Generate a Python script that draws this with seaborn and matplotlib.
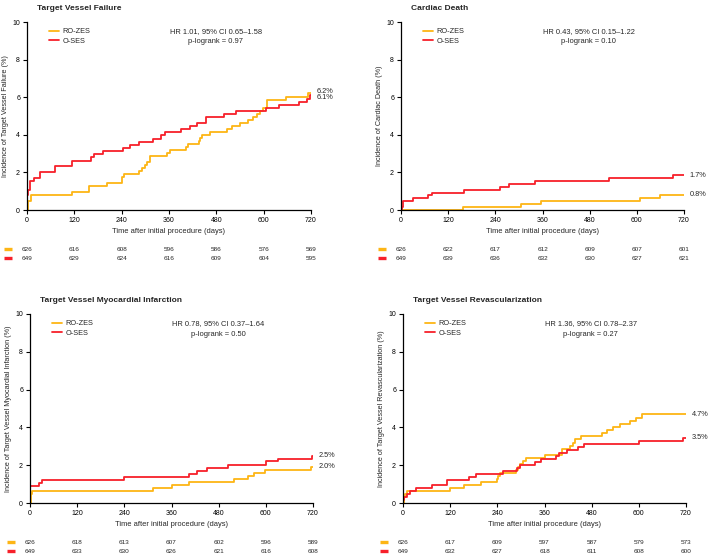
import numpy as np
import pandas as pd
import matplotlib
matplotlib.use("Agg")
import matplotlib.pyplot as plt
import matplotlib.transforms as mtransforms
from matplotlib.lines import Line2D
import seaborn as sns

# ---------------- data ----------------
groups = ["RO-ZES", "O-SES"]
titles = ["Target Vessel Failure", "Cardiac Death",
          "Target Vessel Myocardial Infarction", "Target Vessel Revascularization"]
ylabels = ["Incidence of Target Vessel Failure (%)", "Incidence of Cardiac Death (%)",
           "Incidence of Target Vessel Myocardial Infarction (%)",
           "Incidence of Target Vessel Revascularization (%)"]
hr_text = ["HR 1.01, 95% CI 0.65\u20131.58", "HR 0.43, 95% CI 0.15\u20131.22",
           "HR 0.78, 95% CI 0.37\u20131.64", "HR 1.36, 95% CI 0.78\u20132.37"]
p_text = ["p-logrank = 0.97", "p-logrank = 0.10", "p-logrank = 0.50", "p-logrank = 0.27"]
end_labels = [["6.2%", "6.1%"], ["0.8%", "1.7%"], ["2.0%", "2.5%"], ["4.7%", "3.5%"]]

tvf_ro_t = [0, 3, 10, 115, 158, 204, 241, 246, 285, 292, 300, 305, 312, 354, 362, 403, 407, 435,
            439, 444, 464, 506, 519, 540, 561, 574, 582, 591, 599, 608, 657, 713, 720]
tvf_ro_v = [0, 0.48, 0.8, 0.96, 1.28, 1.44, 1.76, 1.92, 2.08, 2.24, 2.4, 2.56, 2.88, 3.04, 3.2, 3.36,
            3.52, 3.68, 3.84, 4.0, 4.16, 4.32, 4.48, 4.64, 4.8, 4.96, 5.12, 5.28, 5.44, 5.84, 6.0, 6.2, 6.2]
tvf_os_t = [0, 1, 3, 8, 18, 33, 72, 114, 163, 170, 192, 244, 262, 283, 320, 339, 351, 390, 412,
            430, 455, 500, 530, 606, 640, 690, 710, 718, 720]
tvf_os_v = [0, 0.8, 1.04, 1.52, 1.68, 2.0, 2.32, 2.6, 2.8, 2.96, 3.12, 3.28, 3.44, 3.6, 3.76, 4.0,
            4.16, 4.32, 4.48, 4.64, 4.96, 5.12, 5.28, 5.44, 5.6, 5.76, 5.92, 6.1, 6.1]

cd_ro_t = [0, 158, 305, 355, 608, 658, 720]
cd_ro_v = [0, 0.16, 0.32, 0.48, 0.64, 0.8, 0.8]
cd_os_t = [0, 2, 6, 30, 68, 80, 160, 252, 275, 340, 530, 693, 720]
cd_os_v = [0, 0.16, 0.46, 0.62, 0.78, 0.93, 1.08, 1.24, 1.4, 1.55, 1.71, 1.86, 1.86]

mi_ro_t = [0, 2, 6, 312, 362, 405, 518, 555, 570, 598, 715, 720]
mi_ro_v = [0, 0.48, 0.64, 0.8, 0.96, 1.12, 1.28, 1.44, 1.6, 1.76, 1.92, 1.92]
mi_os_t = [0, 1, 22, 30, 240, 405, 425, 450, 505, 600, 632, 718, 720]
mi_os_v = [0, 0.9, 1.06, 1.22, 1.38, 1.55, 1.7, 1.87, 2.03, 2.2, 2.35, 2.5, 2.5]

tvr_ro_t = [0, 2, 6, 10, 120, 155, 198, 240, 242, 246, 288, 292, 297, 305, 312, 362, 405, 425, 432,
            438, 452, 506, 519, 534, 552, 578, 593, 608, 720]
tvr_ro_v = [0, 0.3, 0.48, 0.64, 0.8, 0.96, 1.12, 1.28, 1.44, 1.6, 1.76, 1.92, 2.08, 2.24, 2.4, 2.56,
            2.88, 3.04, 3.2, 3.36, 3.52, 3.68, 3.84, 4.0, 4.16, 4.32, 4.48, 4.7, 4.7]
tvr_os_t = [0, 1, 3, 10, 18, 33, 73, 112, 168, 185, 255, 290, 298, 335, 350, 390, 398, 418, 445,
            460, 600, 712, 720]
tvr_os_v = [0, 0.16, 0.32, 0.48, 0.64, 0.8, 0.96, 1.22, 1.38, 1.55, 1.7, 1.86, 2.02, 2.18, 2.34,
            2.5, 2.65, 2.81, 2.97, 3.13, 3.29, 3.45, 3.45]

risk_times = [0, 120, 240, 360, 480, 600, 720]
tvf_risk_ro = [626, 616, 608, 596, 586, 576, 569]
tvf_risk_os = [649, 629, 624, 616, 609, 604, 595]
cd_risk_ro = [626, 622, 617, 612, 609, 607, 601]
cd_risk_os = [649, 639, 636, 632, 630, 627, 621]
mi_risk_ro = [626, 618, 613, 607, 602, 596, 589]
mi_risk_os = [649, 633, 630, 626, 621, 616, 608]
tvr_risk_ro = [626, 617, 609, 597, 587, 579, 573]
tvr_risk_os = [649, 632, 627, 618, 611, 608, 600]

curves = [
    ((tvf_ro_t, tvf_ro_v), (tvf_os_t, tvf_os_v)),
    ((cd_ro_t, cd_ro_v), (cd_os_t, cd_os_v)),
    ((mi_ro_t, mi_ro_v), (mi_os_t, mi_os_v)),
    ((tvr_ro_t, tvr_ro_v), (tvr_os_t, tvr_os_v)),
]
risks = [(tvf_risk_ro, tvf_risk_os), (cd_risk_ro, cd_risk_os),
         (mi_risk_ro, mi_risk_os), (tvr_risk_ro, tvr_risk_os)]

# ---------------- style ----------------
sns.set_theme(style="ticks")
plt.rcParams["font.family"] = ["Liberation Sans", "DejaVu Sans"]
colors = {"RO-ZES": "#FDB515", "O-SES": "#F7202A"}
label_offsets = [(2, -2), (0, 0), (0, 0), (0, 0)]  # px vertical nudges (RO, OS)

W, H = 709, 554
fig = plt.figure(figsize=(W / 100, H / 100), dpi=100)
# axes boxes in pixels: left, top, right, bottom
boxes = [(27, 22, 311, 210), (401, 22, 684, 210), (30, 314, 313, 503), (403, 314, 686, 503)]

for i, (l, t, r, b) in enumerate(boxes):
    ax = fig.add_axes([l / W, 1 - b / H, (r - l) / W, (b - t) / H])
    frames = []
    for g, (tt, vv) in zip(groups, curves[i]):
        frames.append(pd.DataFrame({"time": tt, "inc": vv, "group": g}))
    df = pd.concat(frames, ignore_index=True)
    sns.lineplot(data=df, x="time", y="inc", hue="group", hue_order=groups,
                 palette=colors, drawstyle="steps-post", estimator=None,
                 linewidth=1.3, ax=ax, legend=False)
    ax.set_xlim(0, 720)
    ax.set_ylim(0, 10)
    ax.set_xticks(risk_times)
    ax.set_yticks([0, 2, 4, 6, 8, 10])
    sns.despine(ax=ax)
    for s in ["left", "bottom"]:
        ax.spines[s].set_linewidth(0.9)
        ax.spines[s].set_color("black")
    ax.tick_params(axis="both", length=3, width=0.8, pad=2, labelsize=5, colors="black")
    ax.set_xlabel("Time after initial procedure (days)", fontsize=5.4, labelpad=3)
    ax.set_ylabel(ylabels[i], fontsize=5.2, labelpad=2.5)
    ax.set_title(titles[i], fontsize=6, fontweight="bold", loc="left", pad=9, x=0.035)

    handles = [Line2D([], [], color=colors[g], lw=1.3) for g in groups]

    ax.text(0.664, 0.947, hr_text[i], transform=ax.transAxes, ha="center", va="center", fontsize=5.4)
    ax.text(0.664, 0.894, p_text[i], transform=ax.transAxes, ha="center", va="center", fontsize=5.4)

    for k, g in enumerate(groups):
        tt, vv = curves[i][k]
        ax.annotate(end_labels[i][k], xy=(tt[-1], vv[-1]), xytext=(4, label_offsets[i][k] * 0.72),
                    textcoords="offset points", ha="left", va="center", fontsize=5.3,
                    annotation_clip=False)

    # risk table
    trans = mtransforms.blended_transform_factory(ax.transData, ax.transAxes)
    h = b - t
    row_y = [-39.5 / h, -48.5 / h]
    for k, g in enumerate(groups):
        for tm, n in zip(risk_times, risks[i][k]):
            ax.text(tm, row_y[k], str(n), transform=trans, ha="center", va="center",
                    fontsize=4.6, clip_on=False)
    sw = [Line2D([], [], color=colors[g], lw=2.4, solid_capstyle="butt") for g in groups]
    leg2 = ax.legend(sw, ["", ""], loc="center left",
                     bbox_to_anchor=(-23 / (r - l), (row_y[0] + row_y[1]) / 2),
                     frameon=False, fontsize=4.6, handlelength=1.25, handletextpad=0,
                     labelspacing=0.42, borderpad=0, borderaxespad=0)
    ax.add_artist(leg2)
    ax.legend(handles, groups, loc="upper left", bbox_to_anchor=(0.077, 0.968),
              frameon=False, fontsize=5.3, handlelength=1.4, handletextpad=0.45,
              labelspacing=0.35, borderpad=0, borderaxespad=0)

fig.savefig("out.png", dpi=100)
